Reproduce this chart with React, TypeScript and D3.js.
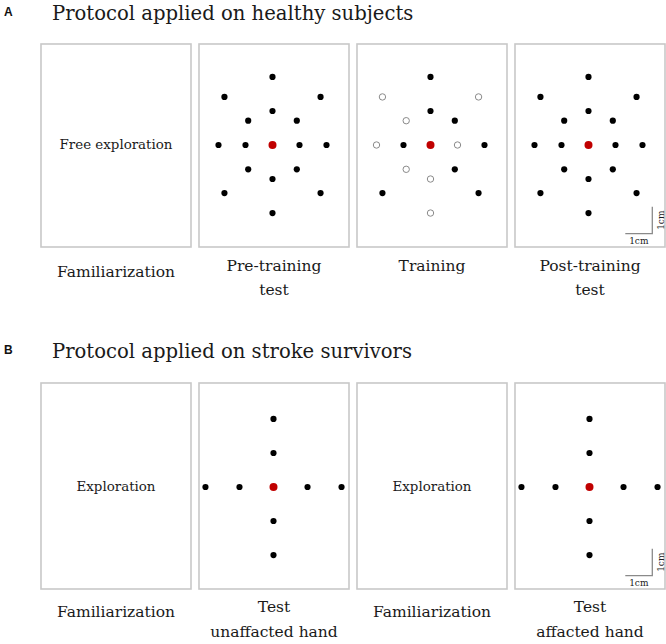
import React from 'react';
import * as d3 from 'd3';

// ---------- data ----------
const sectionLetters = ['A', 'B'];
const sectionTitles = ['Protocol applied on healthy subjects', 'Protocol applied on stroke survivors'];

const healthyPhaseLabels = [['Familiarization'], ['Pre-training', 'test'], ['Training'], ['Post-training', 'test']];
const strokePhaseLabels = [['Familiarization'], ['Test', 'unaffacted hand'], ['Familiarization'], ['Test', 'affacted hand']];

const healthyPanelText = ['Free exploration', '', '', ''];
const strokePanelText = ['Exploration', '', 'Exploration', ''];

// panel content kind: 'text' | 'test' | 'training'
const healthyPanelKind = ['text', 'test', 'training', 'test'];
const strokePanelKind = ['text', 'test', 'text', 'test'];

// target positions (cm) relative to the central start point, y up
const healthyTargetX = [0, 0, 0, 0, 1, 2, -1, -2, 0.9, 1.78, -0.9, -1.78, 0.9, 1.78, -0.9, -1.78];
const healthyTargetY = [2.52, 1.26, -1.26, -2.52, 0, 0, 0, 0, 0.9, 1.78, 0.9, 1.78, -0.9, -1.78, -0.9, -1.78];
// targets trained during the training phase (1 = trained / filled, 0 = untrained / open)
const healthyTrained = [1, 1, 0, 0, 0, 1, 1, 0, 1, 0, 0, 0, 1, 1, 0, 1];

const strokeTargetX = [0, 0, 0, 0, 1.26, 2.52, -1.26, -2.52];
const strokeTargetY = [2.52, 1.26, -1.26, -2.52, 0, 0, 0, 0];

const scaleBarLabel = '1cm';

// ---------- layout ----------
const W = 666;
const H = 644;
const PX_PER_CM = 27;
const panelLefts = [41, 199, 357, 515];
const panelW = 150;
const serif = "'DejaVu Serif', serif";

const rows = [
  {
    letter: sectionLetters[0], title: sectionTitles[0], titleY: 20, letterY: 16,
    top: 44, h: 203, cy: 145, dotDx: 73.5,
    labels: healthyPhaseLabels, texts: healthyPanelText, kinds: healthyPanelKind,
    tx: healthyTargetX, ty: healthyTargetY, trained: healthyTrained,
    labelY: 271, lineGap: 24, labelShift: [6, 0, 0, 0],
  },
  {
    letter: sectionLetters[1], title: sectionTitles[1], titleY: 358, letterY: 354,
    top: 383, h: 206, cy: 487, dotDx: 74.5,
    labels: strokePhaseLabels, texts: strokePanelText, kinds: strokePanelKind,
    tx: strokeTargetX, ty: strokeTargetY, trained: null as number[] | null,
    labelY: 612, lineGap: 25, labelShift: [5, 0, 5, 0],
  },
];

export default function App() {
  return (
    <svg width={W} height={H} style={{ position: 'absolute', left: 0, top: 0, background: '#fff' }}>
      <rect x={0} y={0} width={W} height={H} fill="#fff" />
      {rows.map((row, ri) => (
        <g key={ri}>
          <text x={4} y={row.letterY} fontFamily="'Liberation Sans', Arial, sans-serif" fontWeight="bold" fontSize={12} fill="#111">
            {row.letter}
          </text>
          <text x={52} y={row.titleY} fontFamily={serif} fontSize={19.6} fill="#1a1a1a">
            {row.title}
          </text>
          {panelLefts.map((left, pi) => {
            const cx = left + row.dotDx;
            const x = d3.scaleLinear().domain([-1, 1]).range([cx - PX_PER_CM, cx + PX_PER_CM]);
            const y = d3.scaleLinear().domain([-1, 1]).range([row.cy + PX_PER_CM, row.cy - PX_PER_CM]);
            const kind = row.kinds[pi];
            const boxCx = left + panelW / 2;
            const isLast = pi === panelLefts.length - 1;
            const right = left + panelW;
            const bottom = row.top + row.h;
            // scale bar anchored at panel corner
            const sbX1 = right - 12.7;
            const sbX0 = sbX1 - (x(1) - x(0));
            const sbY = bottom - 13.3;
            const sbYTop = sbY - (y(0) - y(1));
            return (
              <g key={pi}>
                <rect x={left} y={row.top} width={panelW} height={row.h} fill="#fff" stroke="#c8c8c8" strokeWidth={1.6} />
                {kind === 'text' && (
                  <text x={boxCx} y={row.cy + 3.5} textAnchor="middle" fontFamily={serif} fontSize={13.4} fill="#1a1a1a">
                    {row.texts[pi]}
                  </text>
                )}
                {kind !== 'text' && row.tx.map((tx, ti) => {
                  const open = kind === 'training' && row.trained && row.trained[ti] === 0;
                  return open ? (
                    <circle key={ti} cx={x(tx)} cy={y(row.ty[ti])} r={3.2} fill="#fff" stroke="#8a8a8a" strokeWidth={1} />
                  ) : (
                    <circle key={ti} cx={x(tx)} cy={y(row.ty[ti])} r={3.1} fill="#000" />
                  );
                })}
                {kind !== 'text' && <circle cx={x(0)} cy={y(0)} r={4} fill="#c00000" />}
                {isLast && (
                  <g>
                    <path d={`M${sbX0},${sbY}H${sbX1}V${sbYTop}`} fill="none" stroke="#8a8a8a" strokeWidth={1.3} />
                    <text x={(sbX0 + sbX1) / 2} y={bottom - 3} textAnchor="middle" fontFamily={serif} fontSize={9} fill="#1a1a1a">
                      {scaleBarLabel}
                    </text>
                    <text
                      transform={`translate(${right - 1.5},${(sbY + sbYTop) / 2}) rotate(-90)`}
                      textAnchor="middle" fontFamily={serif} fontSize={9} fill="#1a1a1a"
                    >
                      {scaleBarLabel}
                    </text>
                  </g>
                )}
                {row.labels[pi].map((line, li) => (
                  <text
                    key={li}
                    x={boxCx}
                    y={row.labelY + li * row.lineGap + row.labelShift[pi]}
                    textAnchor="middle" fontFamily={serif} fontSize={15.5} fill="#1a1a1a"
                  >
                    {line}
                  </text>
                ))}
              </g>
            );
          })}
        </g>
      ))}
    </svg>
  );
}
